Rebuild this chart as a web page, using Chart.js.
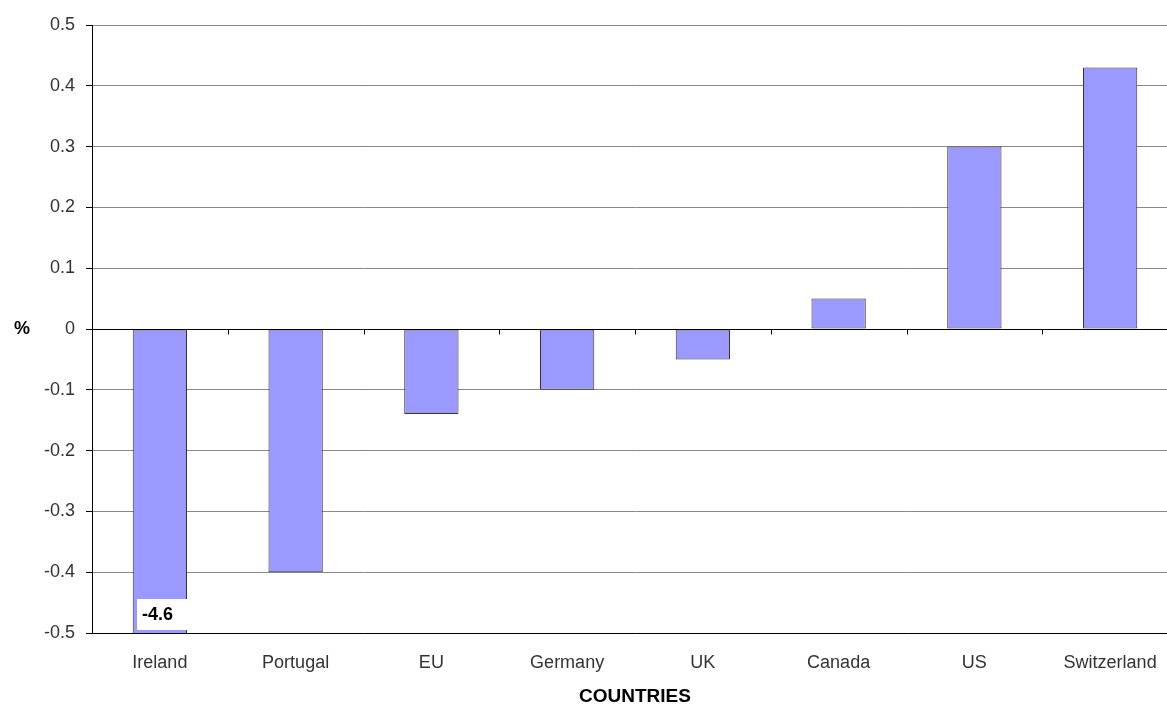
<!DOCTYPE html>
<html>
<head>
<meta charset="utf-8">
<script src="https://cdn.jsdelivr.net/npm/chart.js@4/dist/chart.umd.min.js"></script>
<style>
  html, body { margin: 0; padding: 0; background: #fff; }
  #wrap { width: 1167px; height: 704px; position: relative; overflow: hidden; }
  #c { display: block; }
</style>
</head>
<body>
<div id="wrap"><canvas id="c" width="1178" height="704"></canvas></div>
<script>
const countries = ['Ireland', 'Portugal', 'EU', 'Germany', 'UK', 'Canada', 'US', 'Switzerland'];
const changePct = [-4.6, -0.4, -0.14, -0.1, -0.05, 0.05, 0.3, 0.43];
const yTicks = [-0.5, -0.4, -0.3, -0.2, -0.1, 0, 0.1, 0.2, 0.3, 0.4, 0.5];
const labelledIndex = 0; // bar whose value runs off the axis and is written on it

const FONT = "'Liberation Sans', Arial, sans-serif";

// Extra drawing: "%" axis caption, category tick marks on the zero line, value box
const extras = {
  id: 'extras',
  afterDatasetsDraw(chart) {
    const { ctx, chartArea, scales } = chart;
    const x = scales.x, y = scales.y;
    const y0 = Math.round(y.getPixelForValue(0)) + 0.5;

    ctx.save();
    // zero line on top of the bars
    ctx.strokeStyle = '#000';
    ctx.lineWidth = 1;
    ctx.beginPath();
    ctx.moveTo(chartArea.left, y0);
    ctx.lineTo(chartArea.right, y0);
    // tick marks between categories
    for (let i = 1; i < countries.length; i++) {
      const px = (x.getPixelForValue(i - 1) + x.getPixelForValue(i)) / 2;
      const sx = Math.round(px) + 0.5;
      ctx.moveTo(sx, y0);
      ctx.lineTo(sx, y0 + 5);
    }
    ctx.stroke();

    // value box on the clipped bar
    const bar = chart.getDatasetMeta(0).data[labelledIndex];
    const boxL = Math.round(bar.x - bar.width / 2 + 4);
    const boxR = Math.round(bar.x + bar.width / 2);
    const boxB = Math.round(chartArea.bottom) - 3;
    const boxT = boxB - 31;
    ctx.fillStyle = '#fff';
    ctx.fillRect(boxL, boxT, boxR - boxL, boxB - boxT);
    ctx.fillStyle = '#000';
    ctx.font = `bold 18px ${FONT}`;
    ctx.textAlign = 'left';
    ctx.textBaseline = 'middle';
    ctx.fillText(String(changePct[labelledIndex]), boxL + 5, (boxT + boxB) / 2 + 1);

    // y axis caption
    ctx.textAlign = 'center';
    ctx.fillText('%', 22, y.getPixelForValue(0));
    ctx.restore();
  }
};

new Chart(document.getElementById('c'), {
  type: 'bar',
  data: {
    labels: countries,
    datasets: [{
      data: changePct,
      backgroundColor: '#9999FF',
      borderColor: '#333333',
      borderWidth: 1,
      borderSkipped: false,
      categoryPercentage: 1,
      barPercentage: 0.4
    }]
  },
  options: {
    responsive: false,
    animation: false,
    layout: { padding: { top: 25, right: 0, left: 0, bottom: 0 } },
    plugins: { legend: { display: false }, tooltip: { enabled: false } },
    scales: {
      x: {
        offset: true,
        grid: { display: false },
        border: { display: true, color: '#000' },
        ticks: { color: '#333', font: { family: FONT, size: 18 }, padding: 11, maxRotation: 0, autoSkip: false },
        title: {
          display: true, text: 'COUNTRIES', color: '#000',
          font: { family: FONT, size: 19, weight: 'bold', lineHeight: 0.8 }, padding: { top: 0, bottom: 0 }
        },
        afterFit(s) { s.height = 71; }
      },
      y: {
        min: -0.5, max: 0.5,
        afterBuildTicks(s) { s.ticks = yTicks.map(v => ({ value: v })); },
        grid: { color: '#888', tickColor: '#000', tickLength: 6, lineWidth: 1 },
        border: { display: true, color: '#000' },
        ticks: {
          color: '#333', font: { family: FONT, size: 18 }, padding: 11,
          callback: v => String(Math.round(v * 10) / 10)
        },
        afterFit(s) { s.width = 92; }
      }
    }
  },
  plugins: [extras]
});
</script>
</body>
</html>
